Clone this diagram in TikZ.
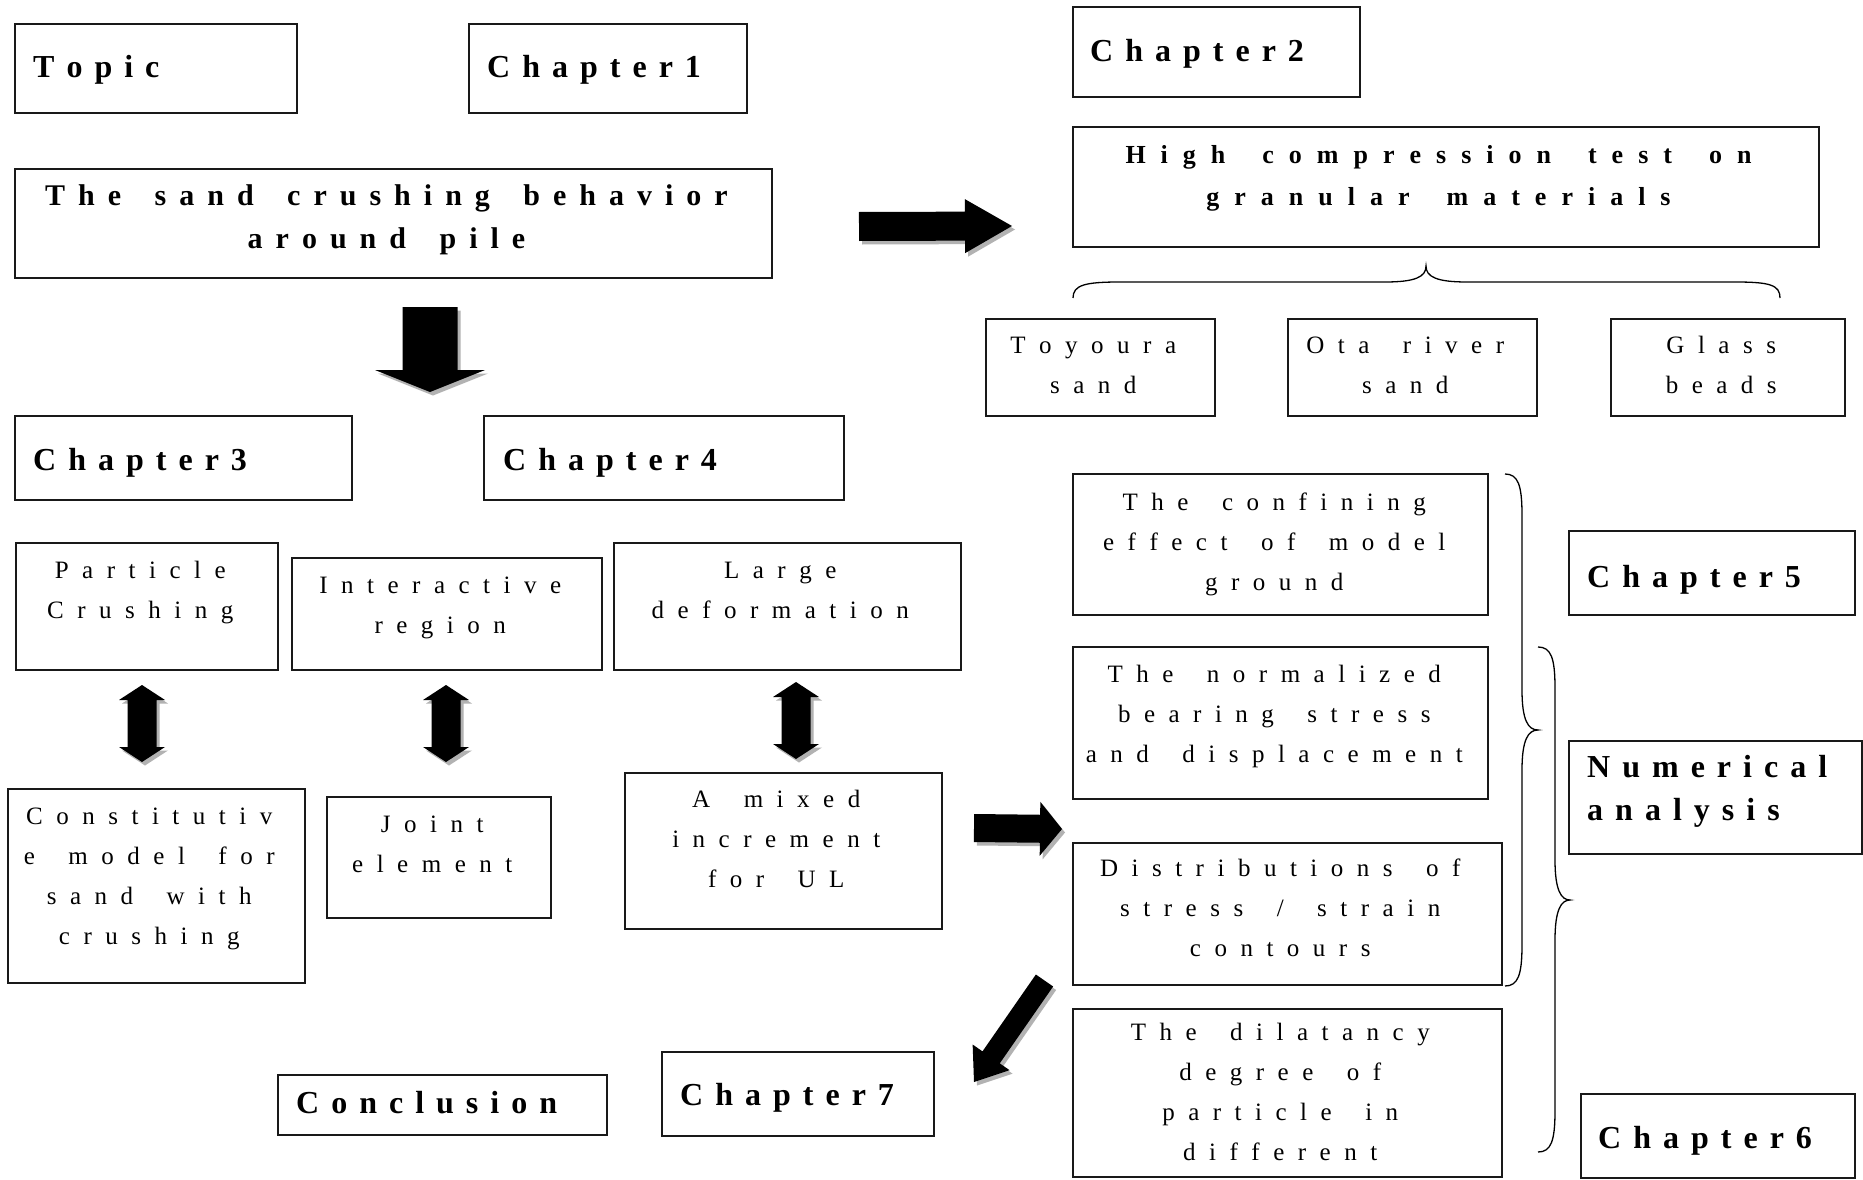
\documentclass[tikz,border=0pt]{standalone}
\usepackage{fontspec}
\setmainfont{Liberation Serif}
\ExplSyntaxOn
\NewDocumentCommand \trk { m m m }
 {
  \str_map_inline:nn {#3}
   {
    \str_if_eq:nnTF {##1} {~} { \hspace{#2} } { ##1 \kern #1 \relax }
   }
 }
\ExplSyntaxOff
\newcommand\trB[1]{\trk{12pt}{20pt}{#1}}
\newcommand\trT[1]{\trk{13pt}{20.5pt}{#1}}
\newcommand\trH[1]{\trk{15pt}{22pt}{#1}}
\newcommand\trR[1]{\trk{13.5pt}{20pt}{#1}}
\usetikzlibrary{calc}
\tikzset{
  box/.style={draw=black!90, line width=1.8pt, inner sep=0pt, outer sep=0pt, anchor=north west},
  head/.style={font={\bfseries\fontsize{32}{43}\selectfont}, inner sep=0pt, anchor=base west, align=left},
  titl/.style={font={\bfseries\fontsize{30}{43}\selectfont}, inner sep=0pt, anchor=base, align=center},
  hct/.style={font={\bfseries\fontsize{26}{42}\selectfont}, inner sep=0pt, anchor=base, align=center},
  reg/.style={font={\fontsize{25}{40}\selectfont}, inner sep=0pt, anchor=base, align=center},
  shadowfill/.style={fill=black!30, transform canvas={xshift=3pt,yshift=-3.5pt}},
  blackfill/.style={fill=black},
  brace/.style={draw=black, line width=1.3pt}
}
\newcommand\bx[5]{\node[box, minimum width={(#4-#2)*1pt}, minimum height={(#5-#3)*1pt}] (#1) at (#2,#3) {};}
% single block arrow: style, A, B, shaft half, head half, head length
\newcommand\sarrowfill[6]{%
  \fill[#1] ($(#2)!#4!90:(#3)$) -- ($(tmpH)!#4!90:(#3)$) -- ($(tmpH)!#5!90:(#3)$) -- (#3)
    -- ($(tmpH)!#5!-90:(#3)$) -- ($(tmpH)!#4!-90:(#3)$) -- ($(#2)!#4!-90:(#3)$) -- cycle;}
\newcommand\sarrow[5]{%
  \coordinate (tmpH) at ($(#2)!#5!(#1)$);
  \sarrowfill{shadowfill}{#1}{#2}{#3}{#4}{#5}%
  \sarrowfill{blackfill}{#1}{#2}{#3}{#4}{#5}}
% double block arrow
\newcommand\darrowfill[6]{%
  \fill[#1] (#2) -- ($(tmpHa)!#5!90:(#3)$) -- ($(tmpHa)!#4!90:(#3)$) -- ($(tmpHb)!#4!90:(#3)$)
    -- ($(tmpHb)!#5!90:(#3)$) -- (#3) -- ($(tmpHb)!#5!-90:(#3)$) -- ($(tmpHb)!#4!-90:(#3)$)
    -- ($(tmpHa)!#4!-90:(#3)$) -- ($(tmpHa)!#5!-90:(#3)$) -- cycle;}
\newcommand\darrow[5]{%
  \coordinate (tmpHa) at ($(#1)!#5!(#2)$);
  \coordinate (tmpHb) at ($(#2)!#5!(#1)$);
  \darrowfill{shadowfill}{#1}{#2}{#3}{#4}{#5}%
  \darrowfill{blackfill}{#1}{#2}{#3}{#4}{#5}}
\begin{document}
\begin{tikzpicture}[x=1pt,y=-1pt]
\useasboundingbox[fill=white] (0,0) rectangle (1863,1180);
% boxes
\bx{topic}{15}{24}{297}{113}
\bx{ch1}{469}{24}{747}{113}
\bx{ch2}{1073}{7}{1360}{97}
\bx{sand}{15}{169}{772}{278}
\bx{hc}{1073}{127}{1819}{247}
\bx{toy}{986}{319}{1215}{416}
\bx{ota}{1288}{319}{1537}{416}
\bx{glass}{1611}{319}{1845}{416}
\bx{ch3}{15}{416}{352}{500}
\bx{ch4}{484}{416}{844}{500}
\bx{pc}{16}{543}{278}{670}
\bx{ir}{292}{558}{602}{670}
\bx{ld}{614}{543}{961}{670}
\bx{cm}{8}{789}{305}{983}
\bx{je}{327}{797}{551}{918}
\bx{mi}{625}{773}{942}{929}
\bx{conf}{1073}{474}{1488}{615}
\bx{norm}{1073}{647}{1488}{799}
\bx{dist}{1073}{843}{1502}{985}
\bx{dil}{1073}{1009}{1502}{1177}
\bx{ch5}{1569}{531}{1855}{615}
\bx{num}{1569}{741}{1862}{854}
\bx{ch6}{1581}{1094}{1855}{1178}
\bx{concl}{278}{1075}{607}{1135}
\bx{ch7}{662}{1052}{934}{1136}
% texts (multi-line nodes: base = last line)
\node[head] (topic-t) at (33,78) {\trB{Topic}};
\node[head] (ch1-t) at (487,78) {\trB{Chapter1}};
\node[head] (ch2-t) at (1090,62) {\trB{Chapter2}};
\node[titl] (sand-t) at (393,248) {\trT{The sand crushing behavior}\\\trT{around pile}};
\node[hct] (hc-t) at (1446,205) {\trH{High compression test on}\\\trH{granular materials}};
\node[reg] (toy-t) at (1100,393) {\trR{Toyoura}\\\trR{sand}};
\node[reg] (ota-t) at (1412,393) {\trR{Ota river}\\\trR{sand}};
\node[reg] (glass-t) at (1728,393) {\trR{Glass}\\\trR{beads}};
\node[head] (ch3-t) at (33,470) {\trB{Chapter3}};
\node[head] (ch4-t) at (503,470) {\trB{Chapter4}};
\node[reg] (pc-t) at (147,618) {\trR{Particle}\\\trR{Crushing}};
\node[reg] (ir-t) at (447,633) {\trR{Interactive}\\\trR{region}};
\node[reg] (ld-t) at (787,618) {\trR{Large}\\\trR{deformation}};
\node[reg] (cm-t) at (156,944) {\trR{Constitutiv}\\\trR{e model for}\\\trR{sand with}\\\trR{crushing}};
\node[reg] (je-t) at (439,872) {\trR{Joint}\\\trR{element}};
\node[reg] (mi-t) at (783,887) {\trR{A mixed}\\\trR{increment}\\\trR{for UL}};
\node[reg] (conf-t) at (1281,590) {\trR{The confining}\\\trR{effect of model}\\\trR{ground}};
\node[reg] (norm-t) at (1281,762) {\trR{The normalized}\\\trR{bearing stress}\\\trR{and displacement}};
\node[reg] (dist-t) at (1287,956) {\trR{Distributions of}\\\trR{stress / strain}\\\trR{contours}};
\node[reg] (dil-t) at (1287,1160) {\trR{The dilatancy}\\\trR{degree of}\\\trR{particle in}\\\trR{different}};
\node[head] (ch5-t) at (1587,587) {\trB{Chapter5}};
\node[head] (num-t) at (1587,820) {\trB{Numerical}\\\trB{analysis}};
\node[head] (ch6-t) at (1598,1148) {\trB{Chapter6}};
\node[head] (concl-t) at (296,1113) {\trB{Conclusion}};
\node[head] (ch7-t) at (680,1105) {\trB{Chapter7}};
% braces
\draw[brace] (1073,298) .. controls (1073,285) and (1085,282) .. (1120,282) -- (1385,282)
  .. controls (1415,282) and (1426,277) .. (1426,266) .. controls (1426,277) and (1437,282) .. (1467,282)
  -- (1735,282) .. controls (1770,282) and (1780,285) .. (1780,298);
\draw[brace] (1505,474) .. controls (1518,474) and (1522,485) .. (1522,515) -- (1522,690)
  .. controls (1522,720) and (1528,730) .. (1538,730) .. controls (1528,730) and (1522,740) .. (1522,770)
  -- (1522,945) .. controls (1522,975) and (1518,986) .. (1505,986);
\draw[brace] (1538,647) .. controls (1551,647) and (1555,658) .. (1555,688) -- (1555,860)
  .. controls (1555,890) and (1561,900) .. (1570,900) .. controls (1561,900) and (1555,910) .. (1555,940)
  -- (1555,1111) .. controls (1555,1141) and (1551,1152) .. (1538,1152);
% arrows
\coordinate (a1s) at (859,226.5); \coordinate (a1e) at (1012,226);
\sarrow{a1s}{a1e}{14.5pt}{27pt}{47pt}
\coordinate (a2s) at (430,307); \coordinate (a2e) at (430,392);
\sarrow{a2s}{a2e}{27.5pt}{55pt}{22pt}
\coordinate (a3s) at (974,828); \coordinate (a3e) at (1062,829);
\sarrow{a3s}{a3e}{14pt}{27pt}{22pt}
\coordinate (a4s) at (1044.5,980.5); \coordinate (a4e) at (974,1082);
\sarrow{a4s}{a4e}{10.5pt}{22.5pt}{30pt}
\coordinate (d1s) at (142,685); \coordinate (d1e) at (142,762);
\darrow{d1s}{d1e}{14.5pt}{23pt}{15pt}
\coordinate (d2s) at (446,685); \coordinate (d2e) at (446,762);
\darrow{d2s}{d2e}{14.5pt}{23pt}{15pt}
\coordinate (d3s) at (796,682); \coordinate (d3e) at (796,759);
\darrow{d3s}{d3e}{14.5pt}{23pt}{15pt}
\end{tikzpicture}
\end{document}
